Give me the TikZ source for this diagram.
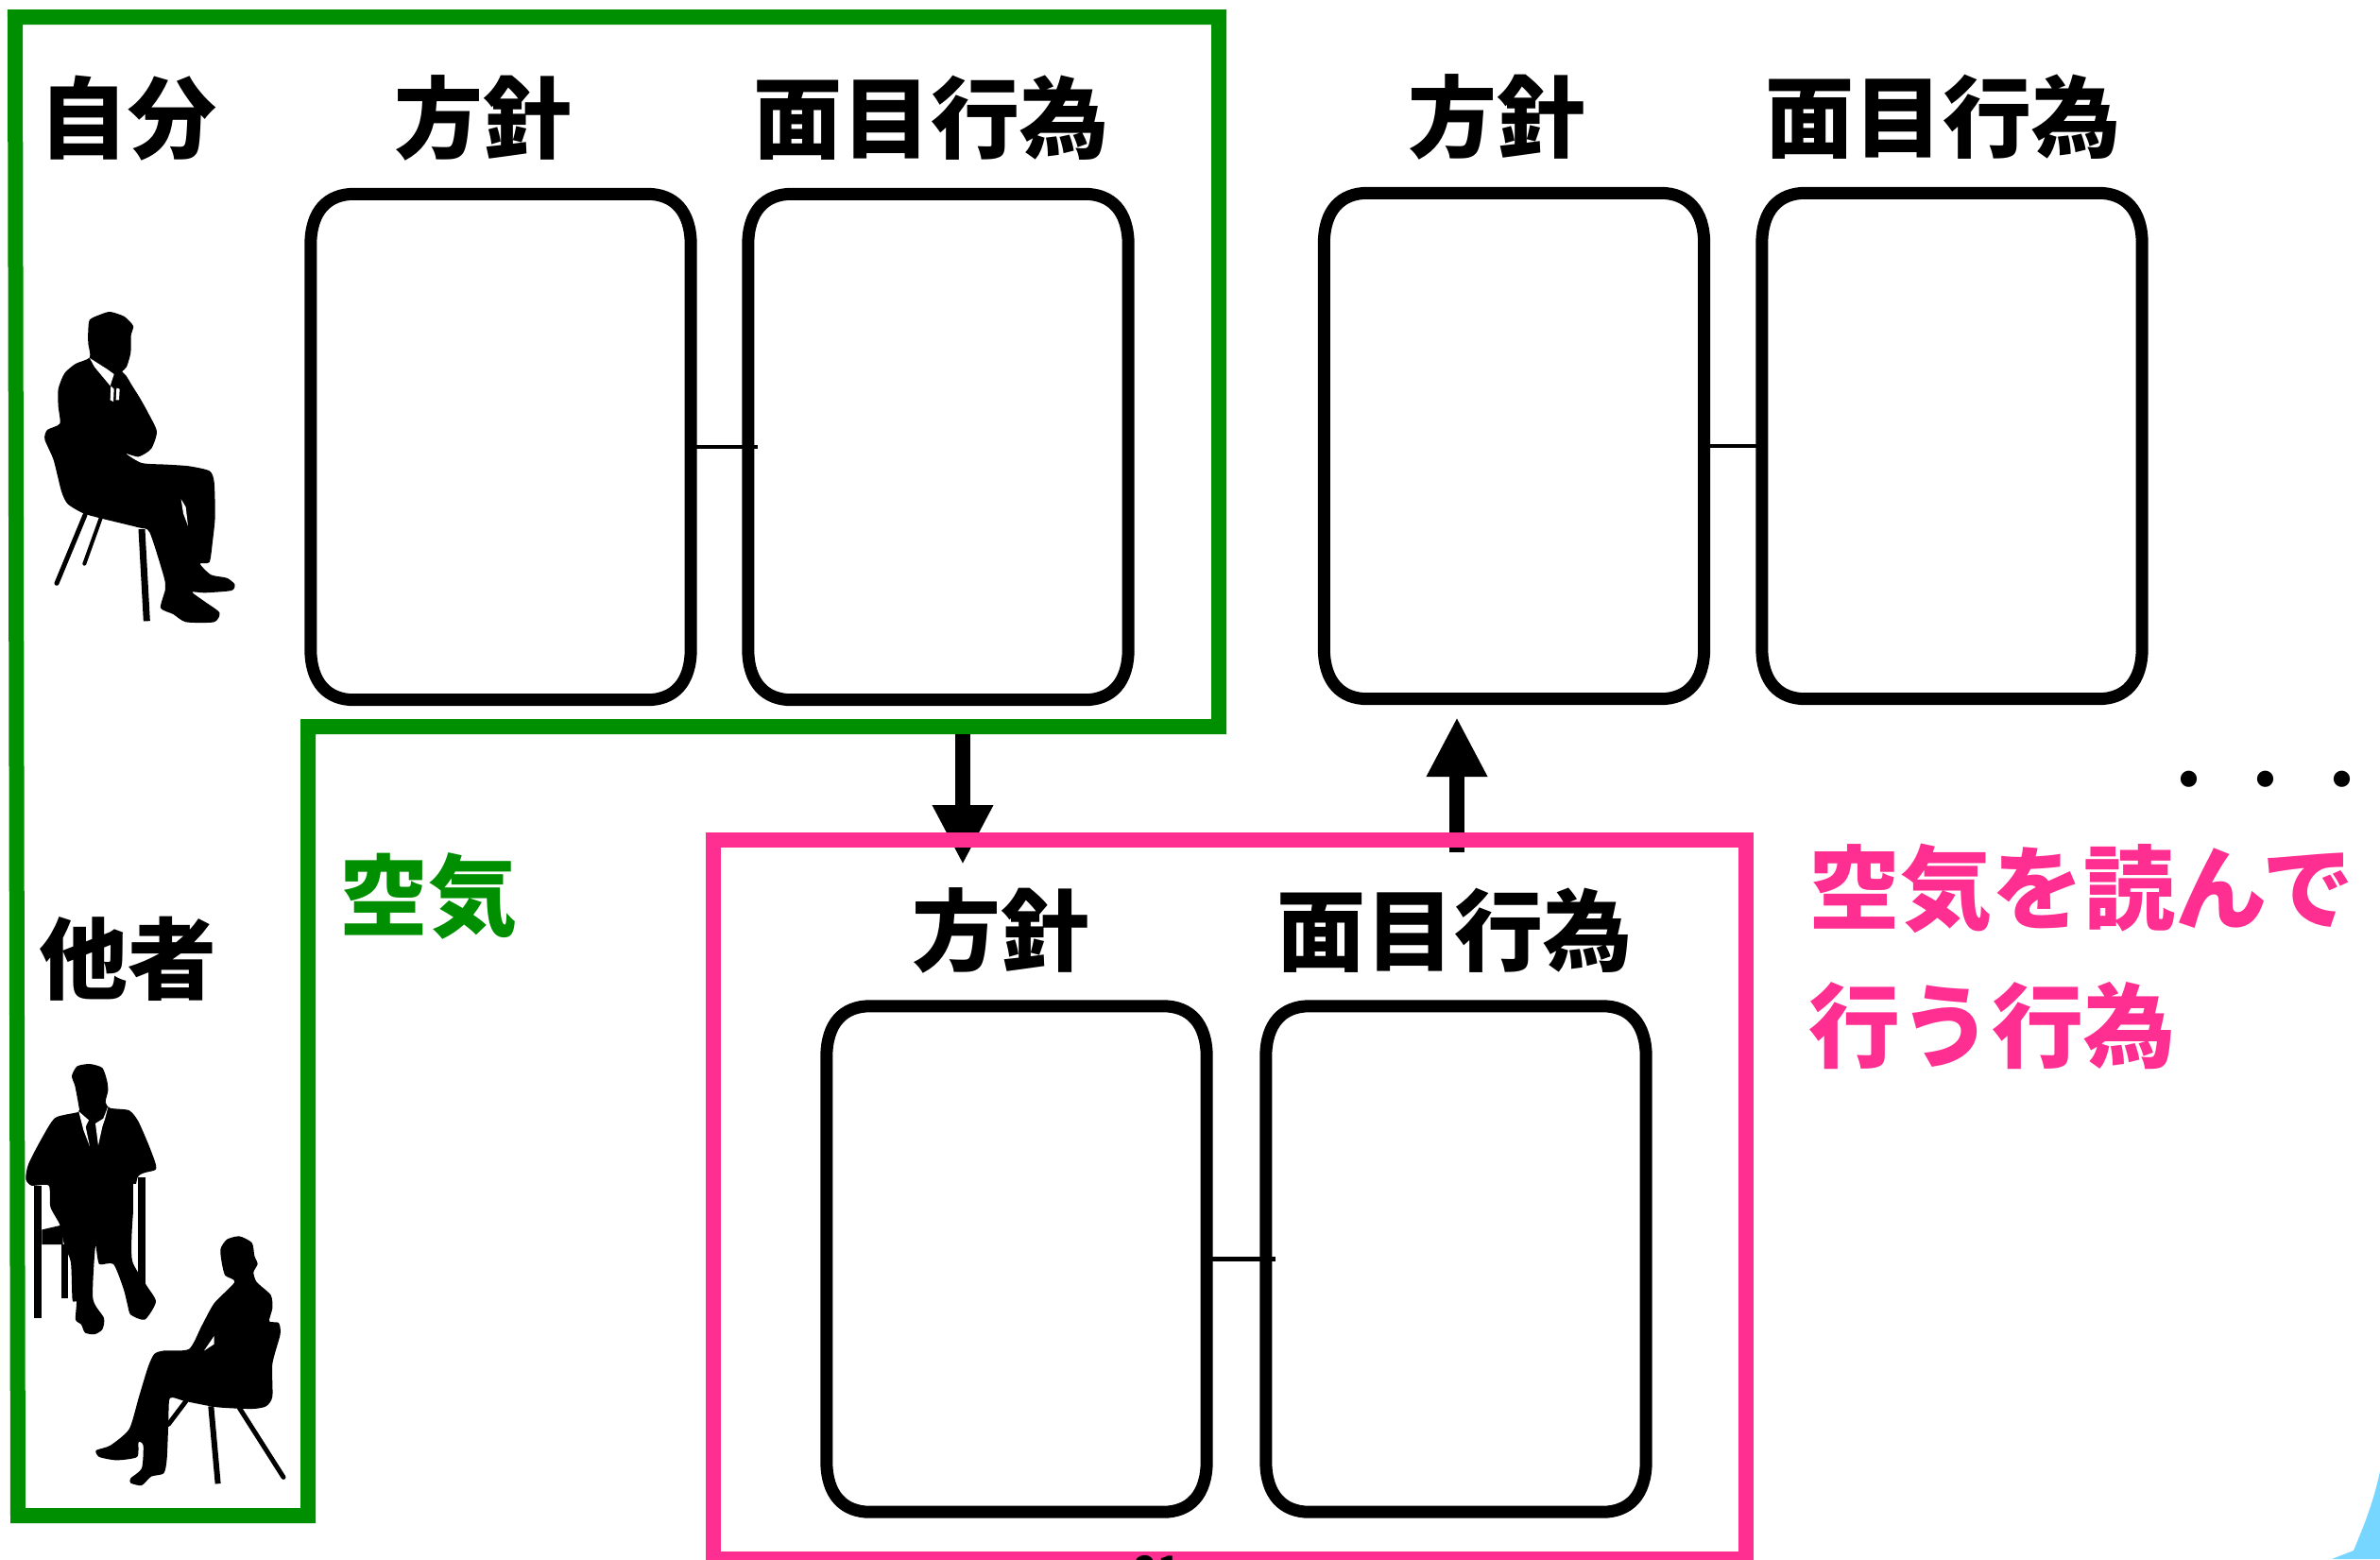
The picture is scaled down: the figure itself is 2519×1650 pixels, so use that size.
\documentclass[tikz,border=0pt]{standalone}
\usepackage{fontspec}
\usetikzlibrary{arrows.meta}
\setmainfont{Noto Sans CJK JP}[BoldFont={Noto Sans CJK JP Black}]
\definecolor{gr}{HTML}{008F00}
\definecolor{pk}{HTML}{FF2F92}
\definecolor{aq}{HTML}{76D6FF}
\tikzset{
  card/.style={inner sep=0pt,minimum width=402pt,minimum height=535pt},
  cardline/.style={draw=black,line width=13pt},
  link/.style={draw=black,line width=4.5pt},
  bigarrow/.style={draw=black,line width=16pt,-{Triangle[length=63pt,width=60pt]}},
  head/.style={font=\fontsize{94}{94}\selectfont\bfseries,inner sep=0pt,text=black},
  lbl/.style={font=\fontsize{97}{97}\selectfont\bfseries,inner sep=0pt},
  sil/.style={fill=black,draw=none},
  leg/.style={draw=black,line cap=round},
  zoomedA/.style={x=.33333pt,y=-.33333pt},
  zoomedB/.style={x=.33333pt,y=-.346pt}
}
\newcommand\squircle[1]{%
  \draw[cardline]
   ([yshift=-54pt]#1.north west) .. controls ([yshift=-18pt]#1.north west) and ([xshift=18pt]#1.north west) .. ([xshift=46pt]#1.north west)
   -- ([xshift=-46pt]#1.north east) .. controls ([xshift=-18pt]#1.north east) and ([yshift=-18pt]#1.north east) .. ([yshift=-54pt]#1.north east)
   -- ([yshift=54pt]#1.south east) .. controls ([yshift=18pt]#1.south east) and ([xshift=-18pt]#1.south east) .. ([xshift=-46pt]#1.south east)
   -- ([xshift=46pt]#1.south west) .. controls ([xshift=18pt]#1.south west) and ([yshift=18pt]#1.south west) .. ([yshift=54pt]#1.south west)
   -- cycle;}
\begin{document}
\begin{tikzpicture}[x=1pt,y=-1pt]
\useasboundingbox (0,0) rectangle (2519,1650);
\clip (0,0) rectangle (2519,1650);
\fill[white] (0,0) rectangle (2519,1650);
% corner shape
\fill[aq] (2519,1557) .. controls (2512,1590) and (2503,1612) .. (2491,1641) -- (2468,1650) -- (2519,1650) -- cycle;
% green frame
\draw[gr,line width=16pt,miter limit=10] (16,18) -- (1290,18) -- (1290,769) -- (326,769) -- (326,1604) -- (19,1604) -- cycle;
% cards
\node[card] (b1) at (530,473) {};
\node[card] (b2) at (993,473) {};
\node[card] (b3) at (1602.5,472) {};
\node[card] (b4) at (2066,472) {};
\node[card] (b5) at (1076,1332.5) {};
\node[card] (b6) at (1541,1332.5) {};
\squircle{b1}\squircle{b2}\squircle{b3}\squircle{b4}\squircle{b5}\squircle{b6}
\draw[link] (b1.east) -- ([xshift=10pt]b2.west);
\draw[link] (b3.east) -- (b4.west);
\draw[link] (b5.east) -- ([xshift=10pt]b6.west);
% arrows
\coordinate (d1) at (1019,777);
\coordinate (d2) at (1019,915);
\coordinate (u1) at (1542,902);
\coordinate (u2) at (1542,759);
\draw[bigarrow] (d1) -- (d2);
\draw[bigarrow] (u1) -- (u2);
% pink frame
\node[draw=pk,line width=16pt,inner sep=0pt,minimum width=1093pt,minimum height=761pt] (pinkframe) at (1301.5,1269.5) {};
% headings
\node[head] (t1) at (135,125) {自分};
\node[head] (t2) at (511,125) {方針};
\node[head] (t3) at (985,125) {面目行為};
\node[head] (t4) at (1584,124) {方針};
\node[head] (t5) at (2056,124) {面目行為};
\node[head] (t6) at (1059,985) {方針};
\node[head] (t7) at (1539,985) {面目行為};
\node[head] (t8) at (135,1015) {他者};
\node[head,text=gr] (t9) at (453,948) {空気};
\node[lbl,text=pk,anchor=west] (t10) at (1914,940) {空気を読んで};
\node[lbl,text=pk,anchor=west] (t11) at (1914,1086) {行う行為};
\node[font=\fontsize{81}{81}\selectfont,inner sep=0pt] (t12) at (2398,836) {・・・};
\node[font=\fontsize{38}{38}\selectfont\bfseries,inner sep=0pt,anchor=north] (t13) at (1225,1646) {21};
% person 1
\begin{scope}[shift={(0,280)},zoomedA]
\draw[leg,line width=5pt] (270,795) -- (180,1012);
\draw[leg,line width=4pt] (320,805) -- (268,950);
\draw[leg,line width=7pt,line cap=butt] (450,840) -- (466,1132);
\fill[sil] plot[smooth cycle,tension=.4] coordinates {
 (280,210) (285,175) (320,158) (350,150) (395,165) (423,195) (416,225) (415,280) (402,325) (388,340) (400,352)
 (420,385) (445,425) (470,470) (498,530) (480,585) (440,610) (400,600) (450,630) (530,635) (600,640) (665,655) (680,690) (683,800) (675,880)
 (665,945) (635,950) (670,985) (720,995) (745,1015) (735,1035) (650,1042) (610,1040) (650,1070) (697,1105) (680,1135) (590,1135)
 (550,1110) (510,1090) (525,1030) (520,990) (475,850) (440,835) (330,808) (265,790) (215,760) (195,720) (170,620) (142,555)
 (150,525) (190,505) (185,450) (185,395) (205,345) (240,315) (285,295) (280,250)};
\fill[white] (285,297) -- (340,332) -- (362,348) -- (350,385) -- (300,325) -- cycle;
\fill[white] (352,385) -- (362,395) -- (360,435) -- (350,430) -- cycle;
\fill[white] (370,392) -- (380,395) -- (378,430) -- (368,430) -- cycle;
\fill[white] (575,745) -- (590,770) -- (597,830) -- (582,790) -- cycle;
\end{scope}
% person 2
\begin{scope}[shift={(0,1080)},zoomedB]
\fill[black] (107,505) rectangle (133,910);
\fill[black] (437,480) rectangle (463,810);
\fill[black] (133,640) -- (200,625) -- (200,685) -- (133,685) -- cycle;
\fill[black] (195,685) rectangle (217,850);
\fill[sil] plot[smooth cycle,tension=.4] coordinates {
 (228,170) (245,140) (285,133) (325,145) (340,185) (343,215) (335,250) (350,268) (410,275) (440,310) (480,400) (495,455)
 (437,480) (420,625) (420,735) (465,810) (495,860) (460,915) (415,900) (405,870) (392,820) (360,745) (315,745) (303,690)
 (295,850) (330,910) (325,945) (300,960) (270,955) (258,930) (240,915) (243,860) (230,855) (225,740) (205,690) (190,625) (160,570) (155,505)
 (100,505) (82,485) (90,440) (130,365) (175,298) (248,280) (250,262) (238,200)};
\fill[white] (250,278) -- (282,305) -- (272,325) -- (285,385) -- (265,335) -- cycle;
\fill[white] (345,258) -- (333,302) -- (325,325) -- (312,382) -- (303,315) -- (328,300) -- cycle;
\fill[white] (422,500) rectangle (436,622);
\end{scope}
% person 3
\begin{scope}[shift={(0,1080)},zoomedB]
\draw[leg,line width=5pt] (590,1165) -- (535,1235);
\draw[leg,line width=6pt,line cap=butt] (670,1180) -- (692,1417);
\draw[leg,line width=5pt] (760,1185) -- (900,1397);
\fill[sil] plot[smooth cycle,tension=.4] coordinates {
 (700,700) (720,670) (760,660) (800,680) (808,720) (818,745) (805,770) (815,800) (860,840) (865,880) (855,920) (885,925)
 (890,960) (865,1050) (865,1150) (845,1180) (800,1188) (690,1183) (590,1165) (540,1155) (535,1225) (530,1340) (520,1385)
 (480,1395) (450,1422) (415,1415) (415,1400) (450,1370) (455,1300) (440,1290) (435,1335) (370,1345) (315,1335) (305,1315)
 (350,1300) (410,1250) (440,1155) (470,1060) (490,1020) (520,1010) (600,1005) (640,935) (680,865) (745,800) (715,780) (705,745)};
\fill[white] (648,1010) -- (680,965) -- (680,990) -- cycle;
\end{scope}
\end{tikzpicture}
\end{document}
